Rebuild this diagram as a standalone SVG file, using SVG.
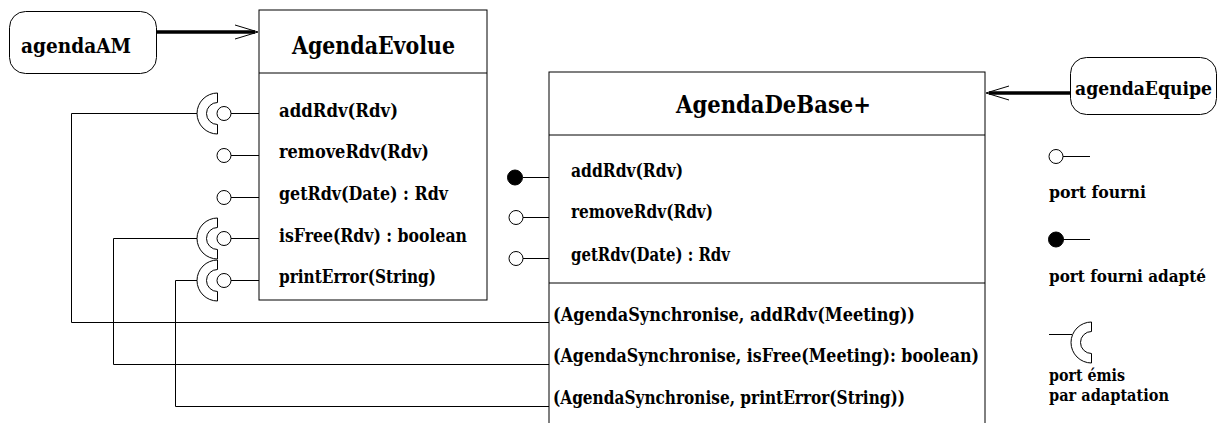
<svg xmlns="http://www.w3.org/2000/svg" width="1229" height="423" viewBox="0 0 1229 423">
  <style>
    text { font-family: "DejaVu Serif", "Liberation Serif", serif; font-weight: bold; fill: #000; }
    .title { font-size: 24px; }
    .inst { font-size: 21px; }
    .instNarrow { font-size: 18px; }
    .op { font-size: 18px; }
    .legend { font-size: 16px; }
    .box { fill: #fff; stroke: #000; stroke-width: 1; }
    .wire { fill: none; stroke: #000; stroke-width: 1; }
    .thick { fill: none; stroke: #000; stroke-width: 3.5; }
    .head { fill: none; stroke: #000; stroke-width: 1; }
    .port { fill: #fff; stroke: #000; stroke-width: 1; }
    .portAdapted { fill: #000; stroke: #000; stroke-width: 1; }
    .cup { fill: #fff; stroke: #000; stroke-width: 1; }
  </style>
  <defs>
    <!-- provided port: small circle with a stub toward the box -->
    <circle id="ball" r="7" />
    <!-- required (emitted) port: half annulus opening to the right -->
    <path id="socket" d="M0,-20.5 A20.5,20.5 0 0 0 0,20.5 L0,11 A11,11 0 0 1 0,-11 Z" />
  </defs>

  <rect width="1229" height="423" fill="#fff"/>

  <!-- connectors -->
  <g id="connectors">
    <!-- agendaAM -> AgendaEvolue -->
    <line class="thick" x1="156" y1="32" x2="255" y2="32"/>
    <polyline class="head" points="235,25 258,32 235,39"/>
    <!-- agendaEquipe -> AgendaDeBase+ -->
    <line class="thick" x1="1070" y1="93" x2="989" y2="93"/>
    <polyline class="head" points="1009,86 986,93 1009,100"/>
    <!-- emitted ports of AgendaEvolue wired to the synchronisation entries -->
    <polyline class="wire" points="197,113.5 71.5,113.5 71.5,322.5 549,322.5"/>
    <polyline class="wire" points="197,238.5 113.5,238.5 113.5,364.5 549,364.5"/>
    <polyline class="wire" points="197,280.5 175.5,280.5 175.5,406.5 549,406.5"/>
  </g>

  <!-- agendaAM -->
  <g id="agendaAM">
    <rect class="box" x="9.5" y="11.5" width="147" height="62" rx="16"/>
    <text class="inst" x="21" y="53" textLength="110" lengthAdjust="spacingAndGlyphs">agendaAM</text>
  </g>

  <!-- AgendaEvolue -->
  <g id="AgendaEvolue">
    <rect class="box" x="259" y="10" width="228" height="290"/>
    <line class="wire" x1="259" y1="73" x2="487" y2="73"/>
    <text class="title" x="292" y="54" textLength="163" lengthAdjust="spacingAndGlyphs">AgendaEvolue</text>
    <text class="op" x="279" y="117" textLength="119" lengthAdjust="spacingAndGlyphs">addRdv(Rdv)</text>
    <text class="op" x="279" y="158" textLength="150" lengthAdjust="spacingAndGlyphs">removeRdv(Rdv)</text>
    <text class="op" x="279" y="200" textLength="169" lengthAdjust="spacingAndGlyphs">getRdv(Date) : Rdv</text>
    <text class="op" x="279" y="242" textLength="188" lengthAdjust="spacingAndGlyphs">isFree(Rdv) : boolean</text>
    <text class="op" x="279" y="283" textLength="157" lengthAdjust="spacingAndGlyphs">printError(String)</text>
    <!-- port stubs -->
    <line class="wire" x1="231" y1="113.5" x2="259" y2="113.5"/>
    <line class="wire" x1="231" y1="155.5" x2="259" y2="155.5"/>
    <line class="wire" x1="231" y1="197.5" x2="259" y2="197.5"/>
    <line class="wire" x1="231" y1="238.5" x2="259" y2="238.5"/>
    <line class="wire" x1="231" y1="280.5" x2="259" y2="280.5"/>
    <!-- sockets -->
    <use href="#socket" class="cup" x="217.5" y="113.5"/>
    <use href="#socket" class="cup" x="217.5" y="238.5"/>
    <use href="#socket" class="cup" x="217.5" y="280.5"/>
    <!-- balls -->
    <use href="#ball" class="port" x="224" y="113.5"/>
    <use href="#ball" class="port" x="224" y="155.5"/>
    <use href="#ball" class="port" x="224" y="197.5"/>
    <use href="#ball" class="port" x="224" y="238.5"/>
    <use href="#ball" class="port" x="224" y="280.5"/>
  </g>

  <!-- AgendaDeBase+ (open at the bottom edge) -->
  <g id="AgendaDeBase">
    <rect class="box" x="549" y="72" width="436" height="360"/>
    <line class="wire" x1="549" y1="135" x2="985" y2="135"/>
    <line class="wire" x1="549" y1="283" x2="985" y2="283"/>
    <text class="title" x="676" y="113" textLength="195" lengthAdjust="spacingAndGlyphs">AgendaDeBase+</text>
    <text class="op" x="571" y="177" textLength="112" lengthAdjust="spacingAndGlyphs">addRdv(Rdv)</text>
    <text class="op" x="571" y="218" textLength="142" lengthAdjust="spacingAndGlyphs">removeRdv(Rdv)</text>
    <text class="op" x="571" y="261" textLength="159" lengthAdjust="spacingAndGlyphs">getRdv(Date) : Rdv</text>
    <text class="op" x="553" y="321" textLength="362" lengthAdjust="spacingAndGlyphs">(AgendaSynchronise, addRdv(Meeting))</text>
    <text class="op" x="553" y="362" textLength="426" lengthAdjust="spacingAndGlyphs">(AgendaSynchronise, isFree(Meeting): boolean)</text>
    <text class="op" x="553" y="404" textLength="352" lengthAdjust="spacingAndGlyphs">(AgendaSynchronise, printError(String))</text>
    <line class="wire" x1="523" y1="177.5" x2="549" y2="177.5"/>
    <line class="wire" x1="523" y1="217.5" x2="549" y2="217.5"/>
    <line class="wire" x1="523" y1="258.5" x2="549" y2="258.5"/>
    <circle class="portAdapted" cx="515" cy="177.5" r="7.5"/>
    <use href="#ball" class="port" x="516" y="217.5"/>
    <use href="#ball" class="port" x="516" y="258.5"/>
  </g>

  <!-- agendaEquipe -->
  <g id="agendaEquipe">
    <rect class="box" x="1070.5" y="57.5" width="146" height="57" rx="16"/>
    <text class="instNarrow" x="1075" y="95" textLength="137" lengthAdjust="spacingAndGlyphs">agendaEquipe</text>
  </g>

  <!-- legend -->
  <g id="legend">
    <use href="#ball" class="port" x="1056" y="156.5"/>
    <line class="wire" x1="1063" y1="156.5" x2="1090" y2="156.5"/>
    <text class="legend" x="1049" y="198" textLength="97" lengthAdjust="spacingAndGlyphs">port fourni</text>
    <circle class="portAdapted" cx="1056" cy="239.5" r="7.5"/>
    <line class="wire" x1="1063" y1="239.5" x2="1090" y2="239.5"/>
    <text class="legend" x="1049" y="282" textLength="157" lengthAdjust="spacingAndGlyphs">port fourni adapté</text>
    <line class="wire" x1="1049" y1="334.5" x2="1072" y2="334.5"/>
    <use href="#socket" class="cup" x="1091.5" y="342.5"/>
    <text class="legend" x="1049" y="381" textLength="76" lengthAdjust="spacingAndGlyphs">port émis</text>
    <text class="legend" x="1049" y="401" textLength="120" lengthAdjust="spacingAndGlyphs">par adaptation</text>
  </g>
</svg>
